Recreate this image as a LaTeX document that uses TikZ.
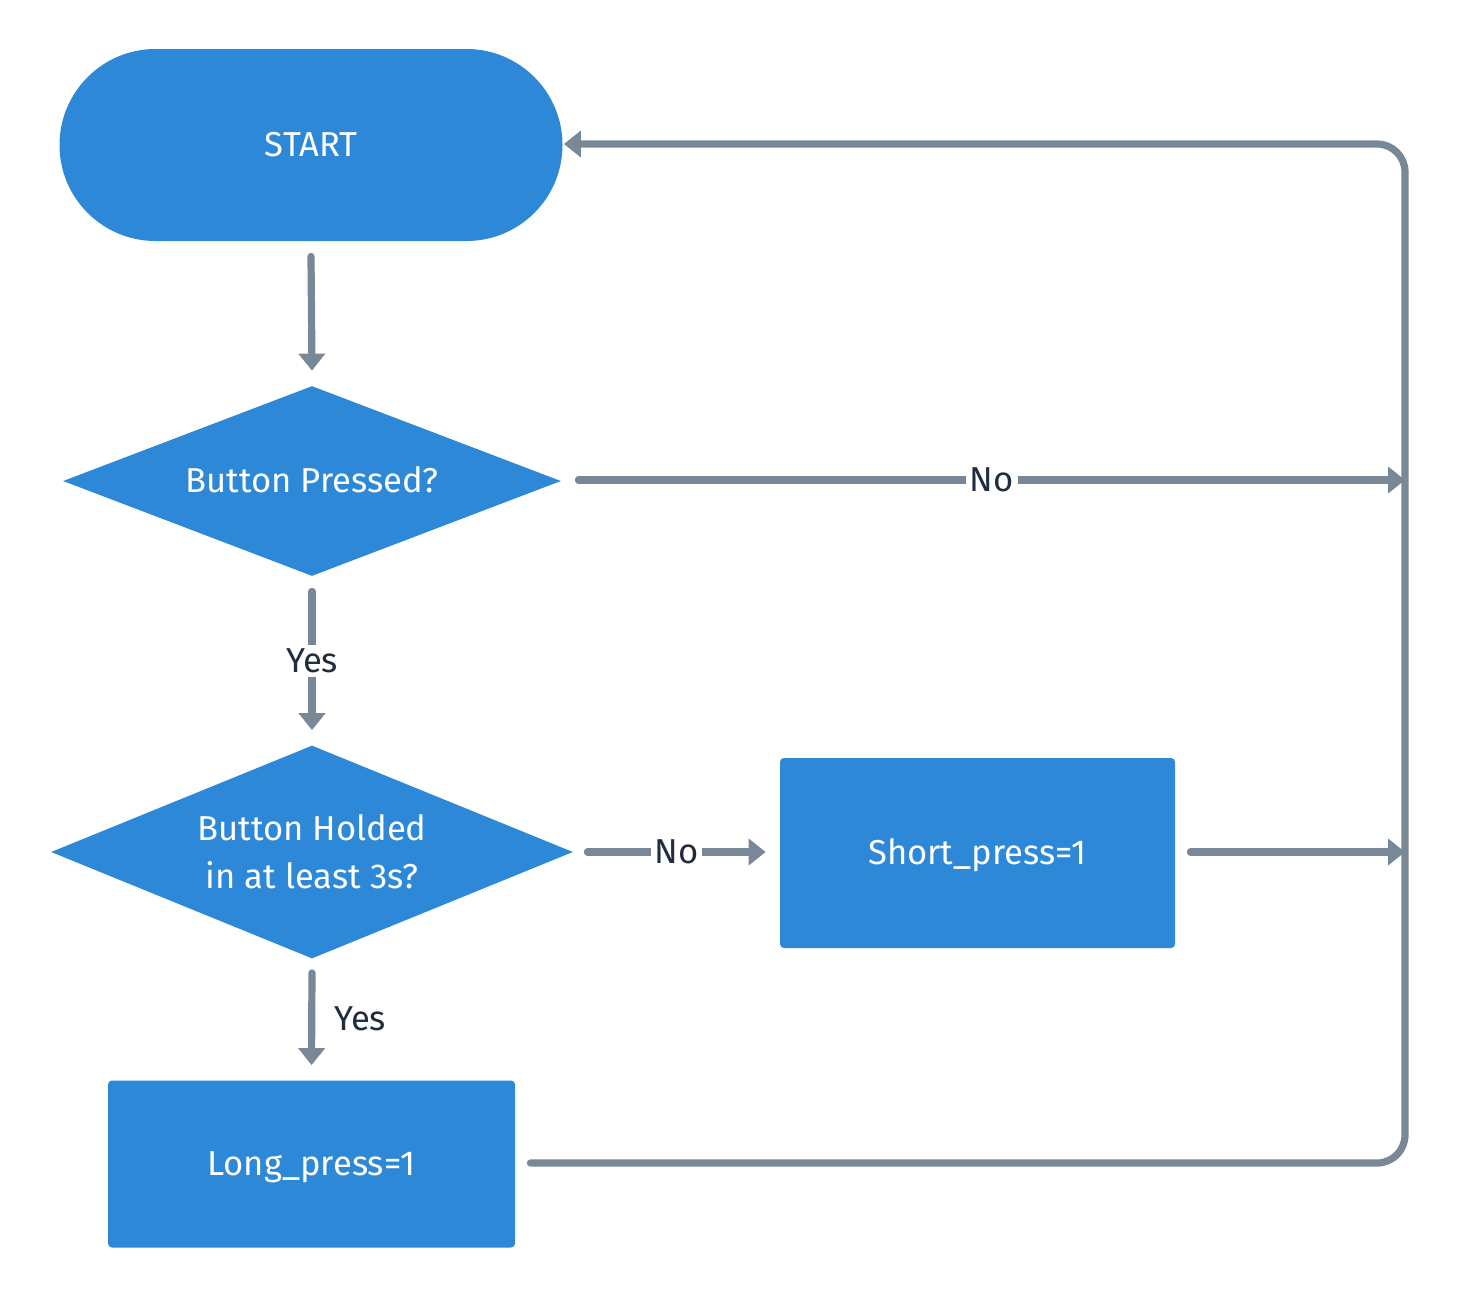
\documentclass[tikz,border=0pt]{standalone}
\usepackage{fontspec}
\setmainfont{Fira Sans}
\usetikzlibrary{shapes.geometric,arrows.meta}
\definecolor{fblue}{HTML}{2D88D8}
\definecolor{fline}{HTML}{798897}
\definecolor{ftext}{HTML}{1F2D3D}
\tikzset{
  shapebase/.style={fill=fblue, draw=none, text=white, font=\fontsize{17.3}{24}\selectfont, align=center, inner sep=0pt},
  oneline/.style={text height=13pt, text depth=2pt},
  terminal/.style={shapebase, oneline, rectangle, rounded corners=48pt, minimum width=251.5pt, minimum height=96pt},
  decision/.style={shapebase, diamond, shape aspect=2.6},
  process/.style={shapebase, oneline, rectangle, rounded corners=2pt},
  conn/.style={draw=fline, line width=3.6pt, line cap=round, line join=round},
  arr/.style={conn, -{Triangle[width=13pt,length=8.5pt]}},
  lbl/.style={text=ftext, font=\fontsize{17.3}{20}\selectfont, fill=white, inner sep=2pt},
}
\begin{document}
\begin{tikzpicture}[x=0.5pt,y=-0.5pt]
\useasboundingbox (0,0) rectangle (1460,1296);
\node[terminal] (start) at (311,145) {START};
\node[decision, oneline, minimum width=249pt, minimum height=95pt] (d1) at (312,481) {Button Pressed?};
\node[decision, minimum width=261pt, minimum height=106.5pt] (d2) at (312,852) {Button Holded\\in at least 3s?};
\node[process, minimum width=197.5pt, minimum height=95pt] (short) at (977.5,853) {Short\_press=1};
\node[process, minimum width=203.5pt, minimum height=83.5pt] (long) at (311.5,1164) {Long\_press=1};

\coordinate (rtop) at (1405,144);
\coordinate (rmid) at (1405,480);
\coordinate (rlow) at (1405,852);
\coordinate (rbot) at (1405,1163);

% START -> D1
\draw[arr] ([yshift=-7.5pt]start.south) -- ([yshift=7.5pt]d1.north);
% D1 -> No -> right line
\draw[arr] ([xshift=8.5pt,yshift=0.5pt]d1.east) -- node[lbl, pos=0.5] {No} (rmid);
% D1 -> Yes -> D2
\draw[arr] ([yshift=-7.5pt]d1.south) -- node[lbl, pos=0.5] {Yes} ([yshift=7.5pt]d2.north);
% D2 -> No -> Short
\draw[arr] ([xshift=7pt]d2.east) -- node[lbl, pos=0.5] {No} ([xshift=-7pt,yshift=0.5pt]short.west);
% Short -> right line
\draw[arr] ([xshift=7.5pt,yshift=0.5pt]short.east) -- (rlow);
% D2 -> Yes -> Long
\draw[arr] ([yshift=-7pt]d2.south) -- node[text=ftext, font=\fontsize{17.3}{20}\selectfont, right=6pt, pos=0.5] {Yes} ([yshift=7.5pt]long.north);
% Long -> loop back to START
\draw[arr, rounded corners=14pt] ([xshift=7.5pt,yshift=0.5pt]long.east) -- (rbot) -- (rtop) -- ([xshift=0.5pt,yshift=0.5pt]start.east);
\end{tikzpicture}
\end{document}
